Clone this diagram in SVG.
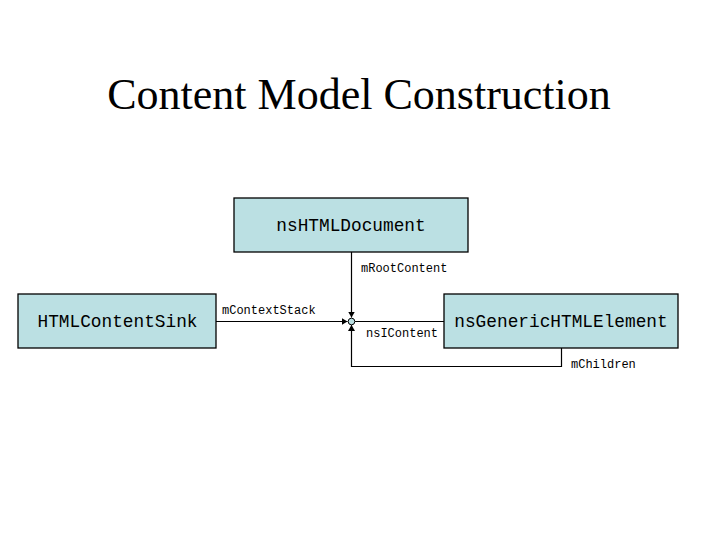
<svg xmlns="http://www.w3.org/2000/svg" width="720" height="540" viewBox="0 0 720 540">
<defs>
<style>
.box{fill:#bbe0e3;stroke:#000;stroke-width:1.3}
.nt{font-family:"Liberation Mono","Courier New",monospace;font-size:17.8px;fill:#000;text-anchor:middle}
.lb{font-family:"Liberation Mono","Courier New",monospace;font-size:12px;fill:#000}
.ln{fill:none;stroke:#000;stroke-width:1.2}
.title{font-family:"Liberation Serif","Times New Roman",serif;font-size:44px;fill:#000;text-anchor:middle}
</style>
<marker id="ah" markerWidth="7" markerHeight="7" refX="6" refY="3.5" orient="auto" markerUnits="userSpaceOnUse">
<path d="M0,0 L6,3.5 L0,7 Z" fill="#000"/>
</marker>
</defs>
<rect width="720" height="540" fill="#fff"/>
<text class="title" x="359" y="109">Content Model Construction</text>
<g id="connectors">
<path class="ln" d="M351.5,252 V317.5" marker-end="url(#ah)"/>
<path class="ln" d="M216,321.5 H347.5" marker-end="url(#ah)"/>
<path class="ln" d="M561.5,348 V366.5 H351.5 V325" marker-end="url(#ah)"/>
<path class="ln" d="M355,321.5 H444"/>
<circle cx="351.5" cy="321.5" r="3.3" fill="#bbe0e3" stroke="#000" stroke-width="1"/>
<text class="lb" x="361" y="272">mRootContent</text>
<text class="lb" x="222" y="314">mContextStack</text>
<text class="lb" x="366" y="337">nsIContent</text>
<text class="lb" x="571" y="368">mChildren</text>
</g>
<g id="nsHTMLDocument">
<rect class="box" x="234" y="198" width="234" height="54"/>
<text class="nt" x="351" y="231">nsHTMLDocument</text>
</g>
<g id="HTMLContentSink">
<rect class="box" x="18" y="294" width="198" height="54"/>
<text class="nt" x="117.5" y="327">HTMLContentSink</text>
</g>
<g id="nsGenericHTMLElement">
<rect class="box" x="444" y="294" width="234" height="54"/>
<text class="nt" x="561" y="327">nsGenericHTMLElement</text>
</g>
</svg>
